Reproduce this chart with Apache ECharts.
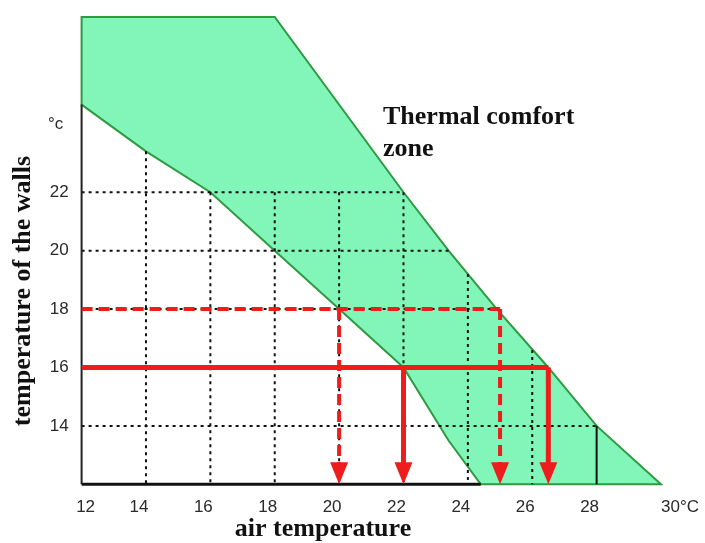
<!DOCTYPE html>
<html>
<head>
<meta charset="utf-8">
<script src="https://cdn.jsdelivr.net/npm/echarts@6/dist/echarts.min.js"></script>
<style>
html,body{margin:0;padding:0;background:#fff}
#chart{width:705px;height:543px}
</style>
</head>
<body>
<div id="chart"></div>
<script>
// tick labels
var xTicks = [12, 14, 16, 18, 20, 22, 24, 26, 28, 30];
var yTicks = [14, 16, 18, 20, 22];
// comfort zone edges (air temperature, wall temperature)
var upperX = [12, 18, 22, 23.4, 24.9, 26.5, 28, 30];
var upperY = [28, 28, 22, 20, 18, 16, 14, 12];
var lowerX = [12, 14, 16, 18, 20, 22, 23.4, 24.4];
var lowerY = [25, 23.4, 22, 20, 18, 16, 13.5, 12];
// dotted grid pieces
var vGridX = [14, 16, 18, 20, 22, 24, 26, 28];
var vGridTop = [23.4, 22, 22, 22, 22, 19.2, 16.6, 14];
var hGridY = [14, 18, 20, 22];
var hGridEnd = [28, 24.9, 23.4, 22];
// red reading lines
var dashY = 18, dashArrows = [20, 25];
var solidY = 16, solidArrows = [22, 26.5];

var red = '#ee1c1c';
var sans = '"Liberation Sans", Arial, sans-serif';
var serif = '"Liberation Serif", "Times New Roman", serif';

var myChart = echarts.init(document.getElementById('chart'));

function seg(api, a, b, style) {
	var p1 = api.coord(a), p2 = api.coord(b);
	return {type: 'line', shape: {x1: p1[0], y1: p1[1], x2: p2[0], y2: p2[1]}, style: style};
}
function arrowHead(api, x) {
	var p = api.coord([x, 12]);
	return {type: 'polygon', shape: {points: [[p[0] - 9, p[1] - 22], [p[0] + 9, p[1] - 22], [p[0], p[1]]]}, style: {fill: red}};
}

var option = {
	animation: false,
	grid: {left: 81.6, right: 44, top: 17, bottom: 58.7},
	xAxis: {
		type: 'value', min: 12, max: 30, interval: 2,
		axisLine: {show: false}, axisTick: {show: false}, splitLine: {show: false},
		axisLabel: {
			margin: 15, color: '#2a2a2a', fontFamily: sans, fontSize: 17,
			showMaxLabel: true, alignMaxLabel: 'left',
			formatter: function (v) {
				if (xTicks.indexOf(v) < 0) return '';
				if (v === 12) return '{first|12}';
				if (v === 30) return '30°C';
				return '{mid|' + v + '}';
			},
			rich: {
				first: {fontFamily: sans, fontSize: 17, color: '#2a2a2a', padding: [0, 0, 0, 8]},
				mid: {fontFamily: sans, fontSize: 17, color: '#2a2a2a', padding: [0, 14, 0, 0]}
			}
		}
	},
	yAxis: {
		type: 'value', min: 12, max: 28, interval: 2,
		axisLine: {show: false}, axisTick: {show: false}, splitLine: {show: false},
		axisLabel: {
			margin: 13, color: '#2a2a2a', fontFamily: sans, fontSize: 17,
			formatter: function (v) { return yTicks.indexOf(v) < 0 ? '' : String(v); }
		}
	},
	series: [
		{
			// green comfort zone
			type: 'custom', silent: true, data: [0],
			renderItem: function (params, api) {
				var pts = [];
				for (var i = 0; i < upperX.length; i++) pts.push(api.coord([upperX[i], upperY[i]]));
				for (var j = lowerX.length - 1; j >= 0; j--) pts.push(api.coord([lowerX[j], lowerY[j]]));
				return {type: 'polygon', shape: {points: pts}, style: {fill: '#82f5b8', stroke: '#2e9a42', lineWidth: 2}};
			}
		},
		{
			// dotted grid
			type: 'custom', silent: true, data: [0],
			renderItem: function (params, api) {
				var dot = {stroke: '#111', lineWidth: 2, lineDash: [3, 4]};
				var kids = [];
				for (var i = 0; i < hGridY.length; i++) kids.push(seg(api, [12, hGridY[i]], [hGridEnd[i], hGridY[i]], dot));
				for (var k = 0; k < vGridX.length; k++) {
					var st = vGridX[k] === 28 ? {stroke: '#111', lineWidth: 2} : dot;
					kids.push(seg(api, [vGridX[k], vGridTop[k]], [vGridX[k], 12], st));
				}
				return {type: 'group', children: kids};
			}
		},
		{
			// axes
			type: 'custom', silent: true, data: [0],
			renderItem: function (params, api) {
				return {type: 'group', children: [
					seg(api, [12, 12], [12, lowerY[0]], {stroke: '#222', lineWidth: 2}),
					seg(api, [12, 12], [lowerX[lowerX.length - 1], 12], {stroke: '#111', lineWidth: 3})
				]};
			}
		},
		{
			// red reading lines with arrows
			type: 'custom', silent: true, data: [0],
			renderItem: function (params, api) {
				var dashed = {stroke: red, lineWidth: 4, lineDash: [11, 6]};
				var solid = {stroke: red, lineWidth: 5};
				var kids = [];
				kids.push(seg(api, [12, dashY], [Math.max.apply(null, dashArrows), dashY], dashed));
				dashArrows.forEach(function (x) {
					kids.push(seg(api, [x, dashY], [x, 12.6], dashed));
					kids.push(arrowHead(api, x));
				});
				kids.push(seg(api, [12, solidY], [Math.max.apply(null, solidArrows), solidY], solid));
				solidArrows.forEach(function (x) {
					kids.push(seg(api, [x, solidY], [x, 12.6], solid));
					kids.push(arrowHead(api, x));
				});
				return {type: 'group', children: kids};
			}
		}
	],
	graphic: [
		{type: 'text', left: 48, top: 116, style: {text: '°c', font: '17px ' + sans, fill: '#2a2a2a'}},
		{type: 'text', x: 23, y: 291, rotation: Math.PI / 2,
			style: {text: 'temperature of the walls', font: 'bold 26px ' + serif, fill: '#111', align: 'center', verticalAlign: 'middle'}},
		{type: 'text', x: 323, y: 529,
			style: {text: 'air temperature', font: 'bold 26px ' + serif, fill: '#111', align: 'center', verticalAlign: 'middle'}},
		{type: 'text', left: 383, top: 101,
			style: {text: 'Thermal comfort\nzone', font: 'bold 26px ' + serif, fill: '#111', lineHeight: 32}}
	]
};

myChart.setOption(option);
</script>
</body>
</html>
